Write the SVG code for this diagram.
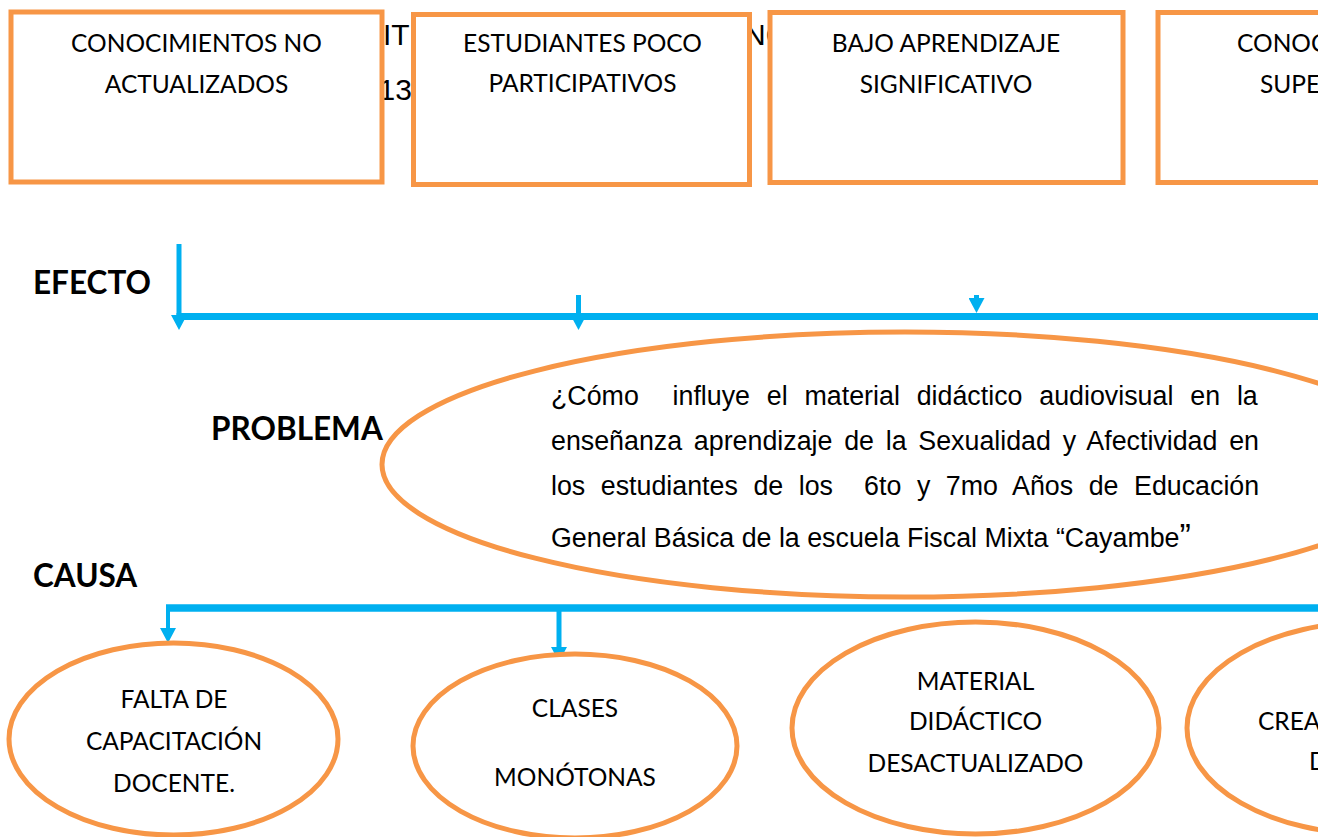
<svg xmlns="http://www.w3.org/2000/svg" width="1318" height="837" viewBox="0 0 1318 837">
<style>
.bx{fill:#fff;stroke:#F79646;stroke-width:5}
.el{fill:#fff;stroke:#F79646;stroke-width:5}
.t{font-family:Lato,"Liberation Sans",sans-serif;font-size:24.5px;fill:#000;text-anchor:middle}
.ts{font-family:Lato,"Liberation Sans",sans-serif;font-size:24.5px;fill:#000}
.lb{font-family:Lato,"Liberation Sans",sans-serif;font-size:31.5px;font-weight:bold;fill:#000}
.bg{font-family:"Liberation Sans",Arial,sans-serif;font-size:30px;fill:#000}
.pr{font-family:"Liberation Sans",Arial,sans-serif;font-size:26.8px;fill:#000;white-space:pre}
.ln{stroke:#00B0F0;fill:none}
</style>
<defs>
<marker id="ah" markerUnits="userSpaceOnUse" markerWidth="15" markerHeight="16" viewBox="0 0 15 16" refX="0" refY="8" orient="auto">
<path d="M0,0 L15,8 L0,16 Z" fill="#00B0F0"/>
</marker>
</defs>
<rect width="1318" height="837" fill="#fff"/>
<g id="bg-text">
<text class="bg" x="383" y="45">IT</text>
<text class="bg" x="378.5" y="100">13</text>
<text class="bg" x="744" y="45">NO</text>
</g>
<g id="efecto1">
<rect class="bx" x="11" y="12" width="371" height="170"/>
<text class="t" x="196.5" y="52">CONOCIMIENTOS NO</text>
<text class="t" x="196.5" y="93">ACTUALIZADOS</text>
</g>
<g id="efecto2">
<rect class="bx" x="413.5" y="14.5" width="336" height="170"/>
<text class="t" x="582.5" y="52">ESTUDIANTES POCO</text>
<text class="t" x="582.5" y="92">PARTICIPATIVOS</text>
</g>
<g id="efecto3">
<rect class="bx" x="770" y="12.5" width="353" height="170"/>
<text class="t" x="946" y="52">BAJO APRENDIZAJE</text>
<text class="t" x="946" y="93">SIGNIFICATIVO</text>
</g>
<g id="efecto4">
<rect class="bx" x="1158" y="12.5" width="371" height="170"/>
<text class="ts" x="1237" y="52">CONOC</text>
<text class="ts" x="1260" y="93">SUPE</text>
</g>
<g id="labels">
<text class="lb" x="33" y="294">EFECTO</text>
<text class="lb" x="211" y="440">PROBLEMA</text>
<text class="lb" x="33" y="587">CAUSA</text>
</g>
<g id="connectors">
<line class="ln" x1="176.5" y1="316.5" x2="1318" y2="316.5" stroke-width="7"/>
<line class="ln" x1="179" y1="244" x2="179" y2="315" stroke-width="5" marker-end="url(#ah)"/>
<line class="ln" x1="578.5" y1="295" x2="578.5" y2="315" stroke-width="5" marker-end="url(#ah)"/>
<line class="ln" x1="976.5" y1="295" x2="976.5" y2="298" stroke-width="5" marker-end="url(#ah)"/>
<line class="ln" x1="166" y1="608" x2="1318" y2="608" stroke-width="7.5"/>
<line class="ln" x1="168" y1="606" x2="168" y2="628" stroke-width="4" marker-end="url(#ah)"/>
<line class="ln" x1="559" y1="608" x2="559" y2="647" stroke-width="5" marker-end="url(#ah)"/>
</g>
<g id="problema">
<ellipse cx="905" cy="464.5" rx="523" ry="132.5" fill="none" stroke="#F79646" stroke-width="5"/>
<text class="pr" x="551" y="405" word-spacing="9.4">¿Cómo  influye el material didáctico audiovisual en la</text>
<text class="pr" x="551" y="450" word-spacing="4.3">enseñanza aprendizaje de la Sexualidad y Afectividad en</text>
<text class="pr" x="551" y="495" word-spacing="8.1">los estudiantes de los  6to y 7mo Años de Educación</text>
<text class="pr" x="551" y="547">General Básica de la escuela Fiscal Mixta “Cayambe<tspan font-size="34px">”</tspan></text>
</g>
<g id="causa1">
<ellipse class="el" cx="173.5" cy="739" rx="164.5" ry="96"/>
<text class="t" x="174" y="708">FALTA DE</text>
<text class="t" x="174" y="750">CAPACITACIÓN</text>
<text class="t" x="174" y="792">DOCENTE.</text>
</g>
<g id="causa2">
<ellipse class="el" cx="575" cy="746" rx="162" ry="92"/>
<text class="t" x="575" y="717">CLASES</text>
<text class="t" x="575" y="786">MONÓTONAS</text>
</g>
<g id="causa3">
<ellipse class="el" cx="975.5" cy="728" rx="183.5" ry="106"/>
<text class="t" x="975.5" y="690">MATERIAL</text>
<text class="t" x="975.5" y="730">DIDÁCTICO</text>
<text class="t" x="975.5" y="772">DESACTUALIZADO</text>
</g>
<g id="causa4">
<ellipse class="el" cx="1371" cy="728" rx="184" ry="106"/>
<text class="ts" x="1258" y="730">CREA</text>
<text class="ts" x="1309" y="770">D</text>
</g>
</svg>
